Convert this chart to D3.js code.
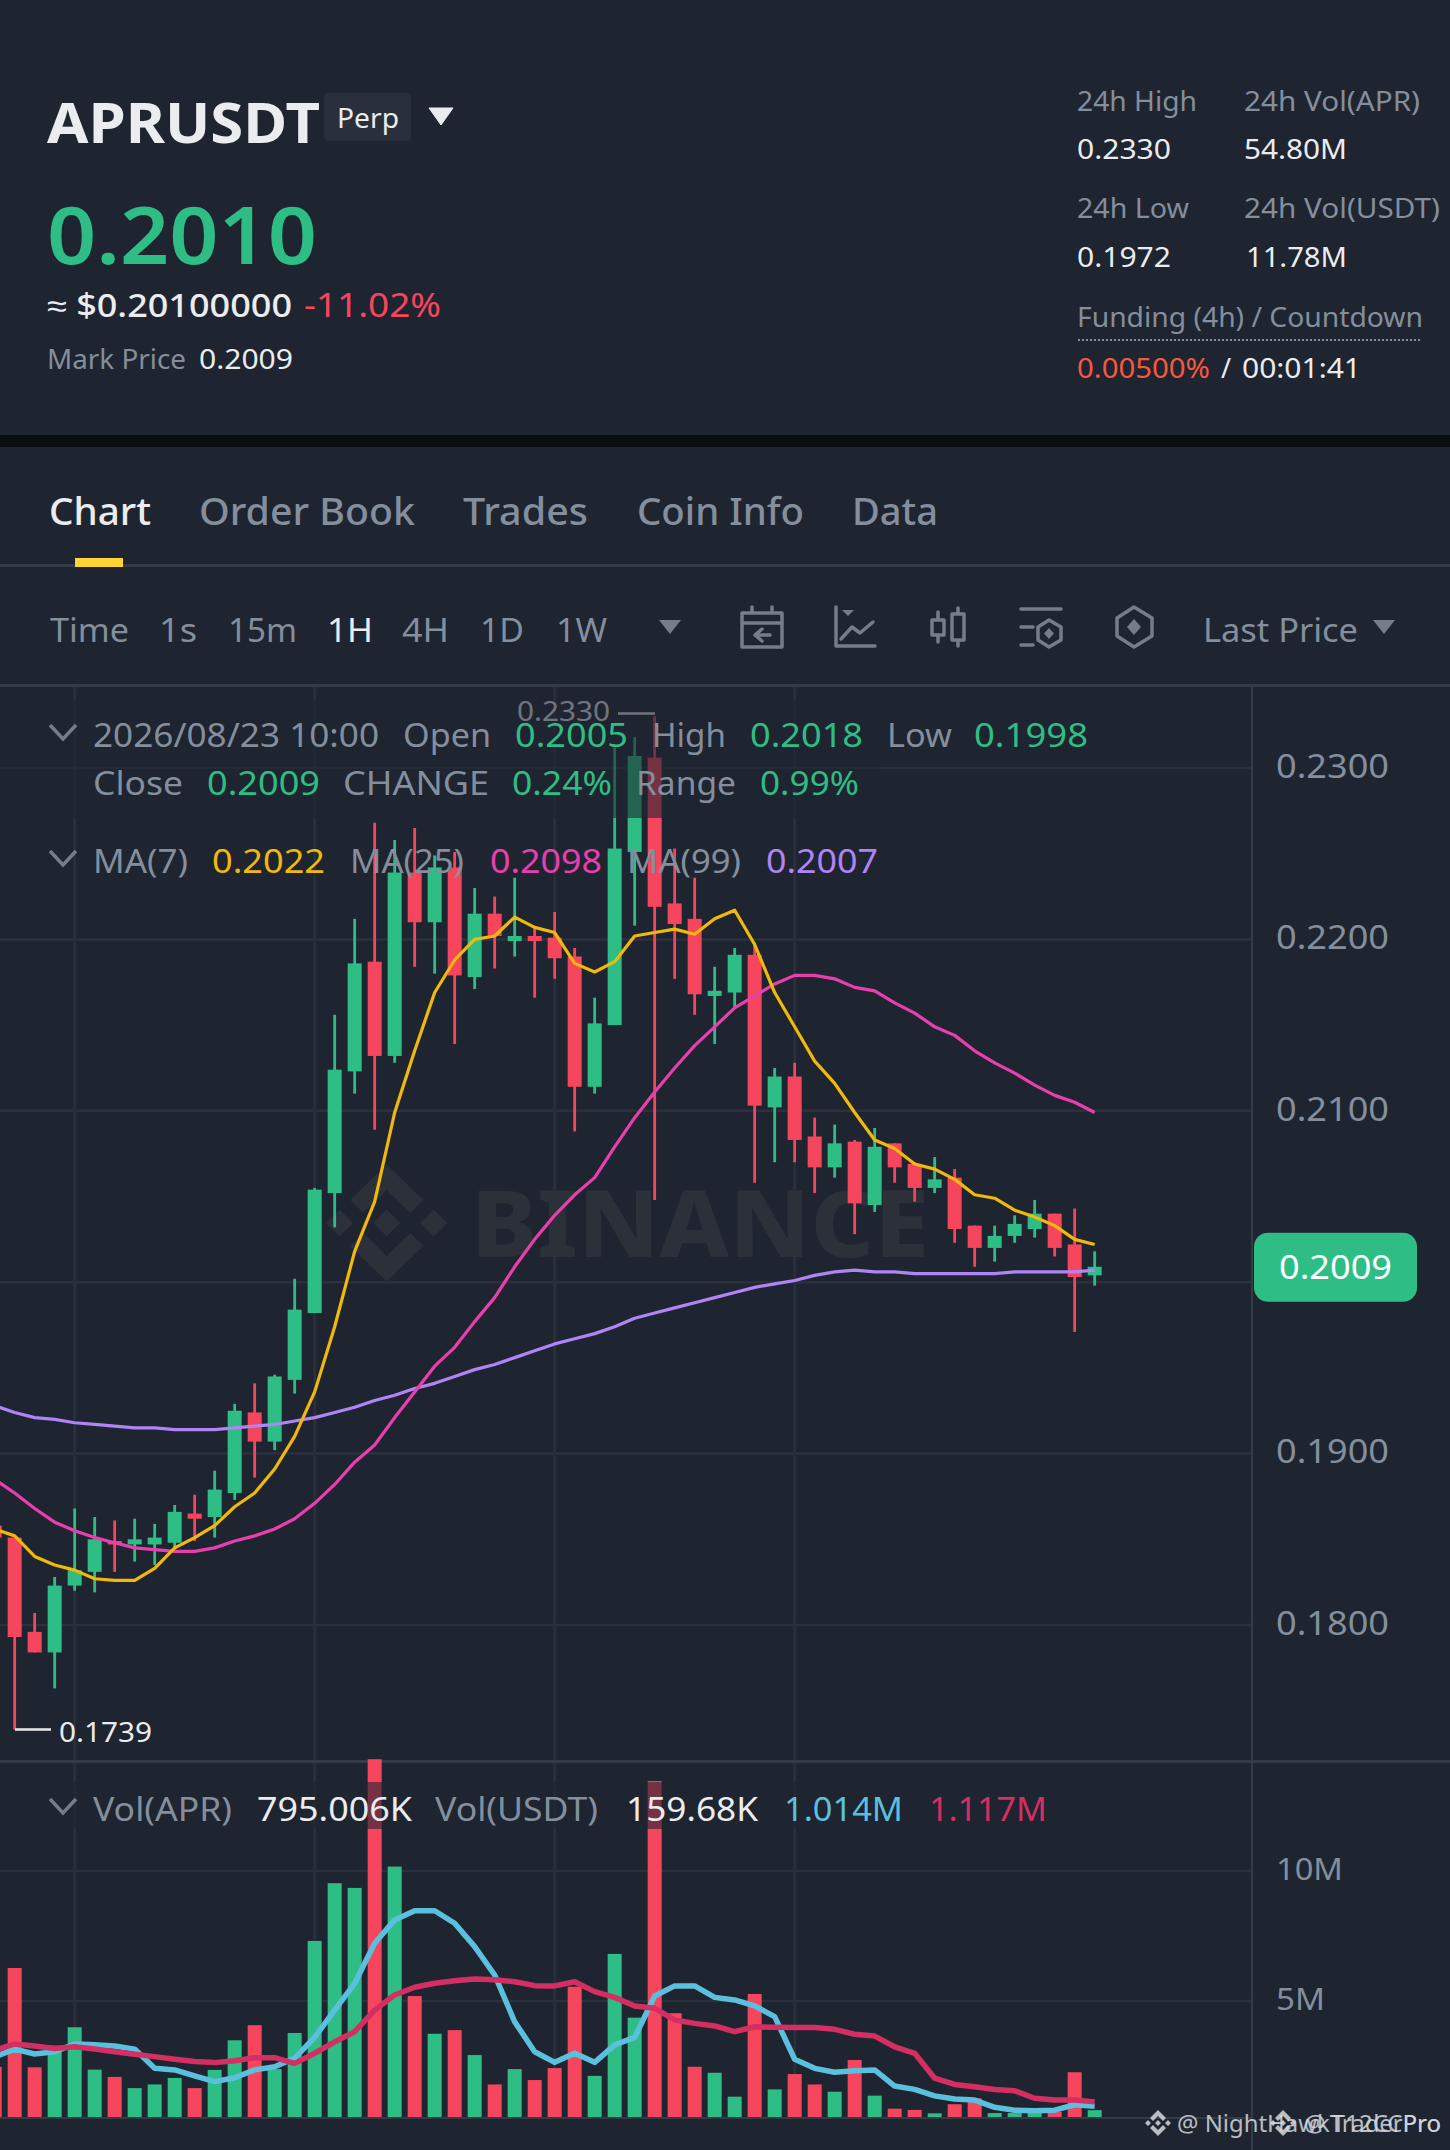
<!DOCTYPE html>
<html>
<head>
<meta charset="utf-8">
<script src="https://cdn.jsdelivr.net/npm/d3@7"></script>
<style>
  html, body { margin: 0; padding: 0; background: #1e2530; }
  svg { display: block; }
  text { font-family: "Noto Sans", sans-serif; }
</style>
</head>
<body>
<div id="chart"></div>
<script>
// candles, one entry per hour, from the partly hidden one at the left edge to the live one
var candleIndex = d3.range(-1, 55);
var opens = [0.1858, 0.1851, 0.1796, 0.1784, 0.1823, 0.1831, 0.1849, 0.1847, 0.1847, 0.1848,
  0.1865, 0.1863, 0.1877, 0.1924, 0.1907, 0.1943, 0.1982, 0.2052, 0.2123, 0.2187,
  0.2132, 0.2239, 0.2210, 0.2242, 0.2178, 0.2215, 0.2199, 0.2202, 0.2201, 0.2190,
  0.2114, 0.2150, 0.2251, 0.2306, 0.2221, 0.2212, 0.2167, 0.2169, 0.2191, 0.2102,
  0.2120, 0.2085, 0.2067, 0.2082, 0.2045, 0.2081, 0.2069, 0.2055, 0.2061, 0.2033,
  0.2020, 0.2027, 0.2031, 0.2040, 0.2022, 0.2004];
var highs = [0.1860, 0.1851, 0.1807, 0.1828, 0.1868, 0.1863, 0.1861, 0.1862, 0.1859, 0.1870,
  0.1876, 0.1890, 0.1929, 0.1941, 0.1946, 0.2002, 0.2055, 0.2156, 0.2212, 0.2268,
  0.2258, 0.2265, 0.2249, 0.2251, 0.2230, 0.2225, 0.2236, 0.2207, 0.2216, 0.2195,
  0.2166, 0.2312, 0.2318, 0.2330, 0.2253, 0.2236, 0.2184, 0.2195, 0.2198, 0.2125,
  0.2128, 0.2096, 0.2092, 0.2083, 0.2090, 0.2081, 0.2070, 0.2073, 0.2066, 0.2033,
  0.2033, 0.2039, 0.2048, 0.2040, 0.2043, 0.2018];
var lows = [0.1840, 0.1739, 0.1784, 0.1763, 0.1820, 0.1819, 0.1831, 0.1837, 0.1835, 0.1844,
  0.1849, 0.1851, 0.1873, 0.1886, 0.1902, 0.1935, 0.1982, 0.2032, 0.2110, 0.2089,
  0.2128, 0.2184, 0.2180, 0.2139, 0.2171, 0.2183, 0.2190, 0.2166, 0.2177, 0.2088,
  0.2110, 0.2150, 0.2208, 0.2048, 0.2177, 0.2156, 0.2139, 0.2160, 0.2058, 0.2070,
  0.2070, 0.2052, 0.2061, 0.2028, 0.2041, 0.2058, 0.2047, 0.2052, 0.2023, 0.2009,
  0.2012, 0.2023, 0.2026, 0.2015, 0.1971, 0.1998];
var closes = [0.1851, 0.1793, 0.1784, 0.1823, 0.1832, 0.1850, 0.1847, 0.1850, 0.1851, 0.1866,
  0.1862, 0.1879, 0.1925, 0.1907, 0.1945, 0.1984, 0.2054, 0.2124, 0.2186, 0.2132,
  0.2239, 0.2210, 0.2242, 0.2179, 0.2215, 0.2202, 0.2202, 0.2199, 0.2189, 0.2114,
  0.2151, 0.2253, 0.2307, 0.2219, 0.2209, 0.2168, 0.2170, 0.2191, 0.2103, 0.2120,
  0.2083, 0.2067, 0.2081, 0.2046, 0.2079, 0.2067, 0.2055, 0.2060, 0.2031, 0.2020,
  0.2027, 0.2034, 0.2040, 0.2020, 0.2003, 0.2009];

// moving averages of price
var ma7 = [0.1856, 0.1852, 0.1840, 0.1835, 0.1832, 0.1827, 0.1826, 0.1826, 0.1833, 0.1845,
  0.1851, 0.1858, 0.1869, 0.1877, 0.1891, 0.1910, 0.1936, 0.1974, 0.2018, 0.2047,
  0.2099, 0.2135, 0.2169, 0.2188, 0.2200, 0.2202, 0.2213, 0.2207, 0.2204, 0.2186,
  0.2181, 0.2187, 0.2202, 0.2204, 0.2206, 0.2203, 0.2212, 0.2217, 0.2197, 0.2169,
  0.2149, 0.2129, 0.2116, 0.2099, 0.2083, 0.2078, 0.2069, 0.2066, 0.2060, 0.2051,
  0.2049, 0.2042, 0.2038, 0.2033, 0.2025, 0.2022];
var ma25 = [0.1885, 0.1877, 0.1868, 0.1860, 0.1855, 0.1851, 0.1848, 0.1845, 0.1844, 0.1843,
  0.1843, 0.1845, 0.1849, 0.1852, 0.1856, 0.1862, 0.1871, 0.1882, 0.1895, 0.1905,
  0.1921, 0.1936, 0.1951, 0.1962, 0.1977, 0.1991, 0.2009, 0.2025, 0.2039, 0.2051,
  0.2061, 0.2079, 0.2096, 0.2111, 0.2125, 0.2138, 0.2149, 0.2160, 0.2167, 0.2174,
  0.2179, 0.2179, 0.2177, 0.2172, 0.2170, 0.2163, 0.2157, 0.2149, 0.2144, 0.2135,
  0.2128, 0.2122, 0.2115, 0.2109, 0.2105, 0.2099];
var ma99 = [0.1928, 0.1924, 0.1921, 0.1920, 0.1918, 0.1917, 0.1916, 0.1915, 0.1915, 0.1914,
  0.1914, 0.1914, 0.1915, 0.1916, 0.1917, 0.1919, 0.1921, 0.1924, 0.1927, 0.1931,
  0.1934, 0.1938, 0.1941, 0.1945, 0.1949, 0.1952, 0.1956, 0.1960, 0.1964, 0.1967,
  0.1970, 0.1974, 0.1979, 0.1982, 0.1985, 0.1988, 0.1991, 0.1994, 0.1997, 0.1999,
  0.2001, 0.2004, 0.2006, 0.2007, 0.2006, 0.2006, 0.2005, 0.2005, 0.2005, 0.2005,
  0.2005, 0.2006, 0.2006, 0.2006, 0.2006, 0.2007];

// volume in millions of APR
var volumes = [2.47, 6.27, 2.45, 3.28, 3.99, 2.36, 2.08, 1.65, 1.79, 2.04,
  1.65, 2.35, 3.49, 4.07, 2.38, 3.77, 7.31, 9.53, 9.35, 14.30,
  10.17, 5.19, 3.74, 3.88, 2.92, 1.79, 2.38, 1.96, 2.42, 5.55,
  2.12, 6.81, 4.36, 13.46, 4.53, 2.47, 2.24, 1.32, 5.27, 1.60,
  2.19, 1.79, 1.51, 2.73, 1.36, 0.86, 0.81, 0.68, 1.03, 1.26,
  0.69, 0.69, 0.69, 0.74, 2.26, 0.80];
var volMaFast = [2.85, 3.15, 2.96, 3.05, 3.35, 3.32, 3.27, 3.15, 2.41, 2.35,
  2.12, 1.90, 2.05, 2.35, 2.47, 2.80, 3.60, 4.65, 5.68, 7.22,
  8.12, 8.47, 8.47, 7.99, 7.09, 6.00, 4.20, 3.05, 2.64, 2.99,
  2.64, 3.31, 3.60, 5.19, 5.58, 5.58, 5.14, 5.04, 4.81, 4.40,
  2.76, 2.41, 2.26, 2.32, 2.35, 1.73, 1.60, 1.35, 1.23, 1.19,
  0.91, 0.80, 0.78, 0.80, 1.01, 0.95];
var volMaSlow = [3.10, 3.35, 3.27, 3.17, 3.24, 3.15, 3.05, 2.95, 2.86, 2.76,
  2.67, 2.63, 2.70, 2.82, 2.82, 2.60, 2.99, 3.43, 3.82, 4.65,
  5.23, 5.53, 5.68, 5.78, 5.85, 5.82, 5.74, 5.59, 5.58, 5.74,
  5.36, 5.14, 4.81, 4.72, 4.27, 4.14, 4.04, 3.82, 4.01, 3.99,
  3.98, 3.98, 3.91, 3.72, 3.65, 3.24, 2.99, 2.03, 1.79, 1.70,
  1.60, 1.55, 1.26, 1.19, 1.19, 1.12];

var priceTicks = [0.18, 0.19, 0.20, 0.21, 0.22, 0.23];
var priceLabels = [0.18, 0.19, 0.21, 0.22, 0.23]; // 0.2000 sits behind the last price badge
var volumeTicks = [5, 10];
var timeTickIndex = [3, 15, 27, 39];

var tabs = ["Chart", "Order Book", "Trades", "Coin Info", "Data"];
var intervals = ["Time", "1s", "15m", "1H", "4H", "1D", "1W"];

var bg = "#1e2530", up = "#2ebd85", down = "#f6465d", grey = "#848e9c", white = "#eaecef", gridColor = "#2b313c";

var svg = d3.select("#chart").append("svg")
    .attr("width", 1450)
    .attr("height", 2150)
    .attr("viewBox", "0 0 1450 2150");

svg.append("rect").attr("width", 1450).attr("height", 2150).attr("fill", bg);

// scales
var x = d3.scaleLinear().domain([0, 54]).range([14.67, 1094.67]);
var yPrice = d3.scaleLinear().domain([0.18, 0.23]).range([1625, 768]);
var yVol = d3.scaleLinear().domain([0, 10]).range([2131, 1871]);
var volBase = 2117;

// small helper for all the fixed page text; width makes it line up with the screenshot
function label(txt, px, py, size, color, weight, width) {
  var t = svg.append("text")
      .attr("x", px - 1)
      .attr("y", py)
      .attr("font-size", size)
      .attr("fill", color)
      .attr("font-weight", weight || 400)
      .text(txt);
  if (width) t.attr("textLength", width + 2).attr("lengthAdjust", "spacingAndGlyphs");
  return t;
}

// header block
label("APRUSDT", 48, 143, 56, white, 700, 271);
svg.append("rect").attr("x", 324).attr("y", 93).attr("width", 87).attr("height", 48).attr("rx", 5).attr("fill", "#2a303b");
label("Perp", 338, 128, 27, white, 400, 60);
svg.append("path").attr("d", "M429 108 H453 L441 125 Z").attr("fill", white).attr("stroke", white).attr("stroke-width", 1).attr("stroke-linejoin", "round");
label("0.2010", 48, 264, 80, up, 600, 268);
label("≈ $0.20100000", 48, 317, 32, white, 500, 243);
label("-11.02%", 305, 317, 32, down, 400, 135);
label("Mark Price", 48, 369, 27, grey, 400, 137);
label("0.2009", 200, 369, 27, white, 400, 92);

label("24h High", 1078, 111, 27, grey, 400, 118);
label("24h Vol(APR)", 1245, 111, 27, grey, 400, 174);
label("0.2330", 1078, 159, 27, white, 400, 92);
label("54.80M", 1245, 159, 27, white, 400, 101);
label("24h Low", 1078, 218, 27, grey, 400, 110);
label("24h Vol(USDT)", 1245, 218, 27, grey, 400, 194);
label("0.1972", 1078, 267, 27, white, 400, 92);
label("11.78M", 1247, 267, 27, white, 400, 99);
label("Funding (4h) / Countdown", 1078, 327, 27, grey, 400, 344);
svg.append("line").attr("x1", 1078).attr("x2", 1422).attr("y1", 340).attr("y2", 340)
    .attr("stroke", grey).attr("stroke-width", 2).attr("stroke-dasharray", "2 2");
label("0.00500%", 1078, 378, 27, "#f6583f", 400, 131);
label("/", 1222, 378, 27, white);
label("00:01:41", 1243, 378, 27, white, 400, 117);

// black band and tabs
svg.append("rect").attr("y", 435).attr("width", 1450).attr("height", 12).attr("fill", "#0b0e11");
var tabX = [50, 200, 464, 638, 853], tabW = [100, 214, 123, 165, 84];
tabs.forEach(function(d, i) {
  label(d, tabX[i], 525, 38, i == 0 ? white : grey, 500, tabW[i]);
});
svg.append("rect").attr("y", 564).attr("width", 1450).attr("height", 3).attr("fill", "#333b47");
svg.append("rect").attr("x", 75).attr("y", 558).attr("width", 48).attr("height", 9).attr("fill", "#fcd535");

// toolbar
var intervalX = [51, 160, 229, 328, 403, 481, 557], intervalW = [77, 36, 67, 44, 45, 42, 49];
intervals.forEach(function(d, i) {
  label(d, intervalX[i], 642, 33, d == "1H" ? white : grey, 400, intervalW[i]);
});
label("Last Price", 1204, 642, 33, grey, 400, 153);
[659, 1373].forEach(function(tx) {
  svg.append("path").attr("d", "M" + tx + " 620 h22 l-11 14 Z").attr("fill", "#757d8a");
});

var iconColor = "#757d8a";
var icons = svg.append("g").attr("fill", "none").attr("stroke", iconColor).attr("stroke-width", 3.5)
    .attr("stroke-linecap", "round").attr("stroke-linejoin", "round");
// calendar with arrow
icons.append("path").attr("d", "M742 613 H782 V647 H742 Z M742 623 H782 M752 607 V613 M772 607 V613 M770 635 H756 M762 629 L755 635 L762 641");
// line chart
icons.append("path").attr("d", "M836 607 V646 H875 M841 639 L852 627 L860 633 L873 622");
icons.append("path").attr("d", "M842 610 H854 L848 616 Z").attr("fill", iconColor).attr("stroke", "none");
// candles
icons.append("path").attr("d", "M932 620 H944 V635 H932 Z M938 612 V620 M938 635 V642 M952 614 H964 V640 H952 Z M958 608 V614 M958 640 V646");
// list with hexagon
icons.append("path").attr("d", "M1021 609 H1061 M1021 627 H1033 M1021 645 H1033 M1049 620 L1061 627 V640 L1049 647 L1038 640 V627 Z");
icons.append("path").attr("d", "M1049 628 L1054 633.5 L1049 639 L1044 633.5 Z").attr("fill", iconColor).attr("stroke", "none");
// hexagon with diamond
icons.append("path").attr("d", "M1134 607 L1152 618 V636 L1134 647 L1117 636 V618 Z");
icons.append("path").attr("d", "M1134 619 L1141 627 L1134 635 L1127 627 Z").attr("fill", iconColor).attr("stroke", "none");

// grid
var grid = svg.append("g").attr("stroke", gridColor).attr("stroke-width", 2.5);
priceTicks.forEach(function(d) {
  grid.append("line").attr("x1", 0).attr("x2", 1252).attr("y1", yPrice(d)).attr("y2", yPrice(d));
});
volumeTicks.forEach(function(d) {
  grid.append("line").attr("x1", 0).attr("x2", 1252).attr("y1", yVol(d)).attr("y2", yVol(d));
});
timeTickIndex.forEach(function(d) {
  grid.append("line").attr("x1", x(d)).attr("x2", x(d)).attr("y1", 685).attr("y2", volBase);
});

// watermark logo and word
var mark = svg.append("g").attr("fill", "#2c3039").attr("transform", "translate(386.7,1223)");
mark.append("path").attr("d", "M0 -13.5 L13.5 0 L0 13.5 L-13.5 0 Z");
mark.append("path").attr("d", "M-47 -13.5 L-33.5 0 L-47 13.5 L-60.5 0 Z");
mark.append("path").attr("d", "M47 -13.5 L60.5 0 L47 13.5 L33.5 0 Z");
mark.append("path").attr("d", "M0 -58.5 L36.5 -23 L23.5 -10 L0 -33 L-23.5 -10 L-36.5 -23 Z");
mark.append("path").attr("d", "M0 58.5 L36.5 23 L23.5 10 L0 33 L-23.5 10 L-36.5 23 Z");
label("BINANCE", 472, 1257, 92, "#2c3039", 800, 456);

// structure lines
svg.append("rect").attr("y", 684).attr("width", 1450).attr("height", 3).attr("fill", "#333b47");
svg.append("rect").attr("y", 1760).attr("width", 1450).attr("height", 3).attr("fill", "#333b47");
svg.append("rect").attr("y", volBase).attr("width", 1252).attr("height", 2).attr("fill", "#333b47");
svg.append("rect").attr("x", 1251).attr("y", 687).attr("width", 2).attr("height", 1463).attr("fill", "#333b47");

// axes
var priceAxis = d3.axisRight(yPrice).tickValues(priceLabels).tickFormat(d3.format(".4f")).tickSize(0).tickPadding(24);
var volAxis = d3.axisRight(yVol).tickValues(volumeTicks).tickFormat(function(d) { return d + "M"; }).tickSize(0).tickPadding(24);
[[priceAxis, 32, function() { return 113; }], [volAxis, 31, function(d) { return d == 10 ? 67 : 49; }]].forEach(function(a) {
  var g = svg.append("g").attr("transform", "translate(1252,-1)").call(a[0]);
  g.select(".domain").remove();
  g.selectAll("text")
      .attr("font-size", a[1])
      .attr("fill", grey)
      .attr("font-family", '"Noto Sans", sans-serif')
      .attr("textLength", a[2])
      .attr("lengthAdjust", "spacingAndGlyphs");
});

// candles
var rows = candleIndex.map(function(d, i) {
  return { i: d, open: opens[i], high: highs[i], low: lows[i], close: closes[i], vol: volumes[i] };
});
var color = function(d) { return d.close >= d.open ? up : down; };

var bodyW = 14;
var candles = svg.append("g").selectAll("g").data(rows).join("g");
candles.append("line")
    .attr("x1", function(d) { return x(d.i); })
    .attr("x2", function(d) { return x(d.i); })
    .attr("y1", function(d) { return yPrice(d.high); })
    .attr("y2", function(d) { return yPrice(d.low); })
    .attr("stroke", color)
    .attr("stroke-width", 2.8);
candles.append("rect")
    .attr("x", function(d) { return x(d.i) - bodyW / 2; })
    .attr("y", function(d) { return yPrice(Math.max(d.open, d.close)); })
    .attr("width", bodyW)
    .attr("height", function(d) { return Math.abs(yPrice(d.open) - yPrice(d.close)); })
    .attr("fill", color);

// volume bars, the pane cuts everything under the base line
svg.append("g").selectAll("rect").data(rows).join("rect")
    .attr("x", function(d) { return x(d.i) - bodyW / 2; })
    .attr("y", function(d) { return yVol(d.vol); })
    .attr("width", bodyW)
    .attr("height", function(d) { return volBase - yVol(d.vol); })
    .attr("fill", color);

// moving average lines
function drawLine(values, y, stroke, width) {
  var line = d3.line()
      .x(function(d, i) { return x(candleIndex[i]); })
      .y(function(d) { return y(d); });
  svg.append("path").attr("d", line(values)).attr("fill", "none")
      .attr("stroke", stroke).attr("stroke-width", width).attr("stroke-linejoin", "round");
}
drawLine(ma99, yPrice, "#b084f5", 3.2);
drawLine(ma25, yPrice, "#e93fae", 3.2);
drawLine(ma7, yPrice, "#f0b90b", 3.2);
drawLine(volMaFast, yVol, "#5bc0de", 5.5);
drawLine(volMaSlow, yVol, "#d32f62", 5.5);

// high and low notes
label("0.2330", 518, 721, 27, white, 400, 91);
svg.append("line").attr("x1", 618).attr("x2", 655).attr("y1", yPrice(0.2330) - 3).attr("y2", yPrice(0.2330) - 3).attr("stroke", white).attr("stroke-width", 2.5);
svg.append("line").attr("x1", 15).attr("x2", 51).attr("y1", yPrice(0.1739)).attr("y2", yPrice(0.1739)).attr("stroke", white).attr("stroke-width", 2.5);
label("0.1739", 60, 1742, 27, white, 400, 91);

// the legends sit on half see through strips
svg.append("rect").attr("y", 700).attr("width", 880).attr("height", 118).attr("fill", bg).attr("opacity", 0.6);
svg.append("rect").attr("y", 1782).attr("width", 1060).attr("height", 47).attr("fill", bg).attr("opacity", 0.6);

function chevron(cy) {
  svg.append("path").attr("d", "M50 " + cy + " L63 " + (cy + 14) + " L76 " + cy)
      .attr("fill", "none").attr("stroke", "#757d8a").attr("stroke-width", 3.5);
}
chevron(725); chevron(851); chevron(1799);

label("2026/08/23 10:00", 94, 747, 33, grey, 400, 284);
label("Open", 404, 747, 33, grey, 400, 86);
label("0.2005", 516, 747, 33, up, 400, 111);
label("High", 653, 747, 33, grey, 400, 72);
label("0.2018", 751, 747, 33, up, 400, 111);
label("Low", 888, 747, 33, grey, 400, 63);
label("0.1998", 975, 747, 33, up, 400, 112);
label("Close", 94, 795, 33, grey, 400, 88);
label("0.2009", 208, 795, 33, up, 400, 111);
label("CHANGE", 344, 795, 33, grey, 400, 144);
label("0.24%", 513, 795, 33, up, 400, 98);
label("Range", 637, 795, 33, grey, 400, 98);
label("0.99%", 761, 795, 33, up, 400, 97);
label("MA(7)", 94, 873, 33, grey, 400, 93);
label("0.2022", 213, 873, 33, "#f0b90b", 400, 111);
label("MA(25)", 351, 873, 33, grey, 400, 112);
label("0.2098", 491, 873, 33, "#e93fae", 400, 110);
label("MA(99)", 628, 873, 33, grey, 400, 112);
label("0.2007", 767, 873, 33, "#b084f5", 400, 110);

label("Vol(APR)", 94, 1821, 33, grey, 400, 137);
label("795.006K", 258, 1821, 33, white, 400, 153);
label("Vol(USDT)", 436, 1821, 33, grey, 400, 161);
label("159.68K", 627, 1821, 33, white, 400, 130);
label("1.014M", 785, 1821, 33, "#5bc0de", 400, 117);
label("1.117M", 930, 1821, 33, "#d32f62", 400, 116);

// last price badge
svg.append("rect").attr("x", 1254).attr("y", yPrice(0.2009) - 34).attr("width", 163).attr("height", 69).attr("rx", 14).attr("fill", up);
label("0.2009", 1280, 1279, 32, "#fff", 400, 111);

// two screenshot credits printed over each other at the bottom right
[[1158, "@ NightHawkTraderPro", 1178, 262], [1283, "@ T12CCPro", 1305, 135]].forEach(function(c) {
  var logo = svg.append("g").attr("fill", "#d5d8dc").attr("opacity", 0.85).attr("transform", "translate(" + c[0] + ",2123)");
  logo.append("path").attr("d", "M0 -3 L3 0 L0 3 L-3 0 Z M-10 -3 L-7 0 L-10 3 L-13 0 Z M10 -3 L13 0 L10 3 L7 0 Z");
  logo.append("path").attr("d", "M0 -13 L8 -5 L5 -2 L0 -7 L-5 -2 L-8 -5 Z M0 13 L8 5 L5 2 L0 7 L-5 2 L-8 5 Z");
  label(c[1], c[2], 2132, 23, "#d5d8dc", 400, c[3]).attr("opacity", 0.85);
});
</script>
</body>
</html>
